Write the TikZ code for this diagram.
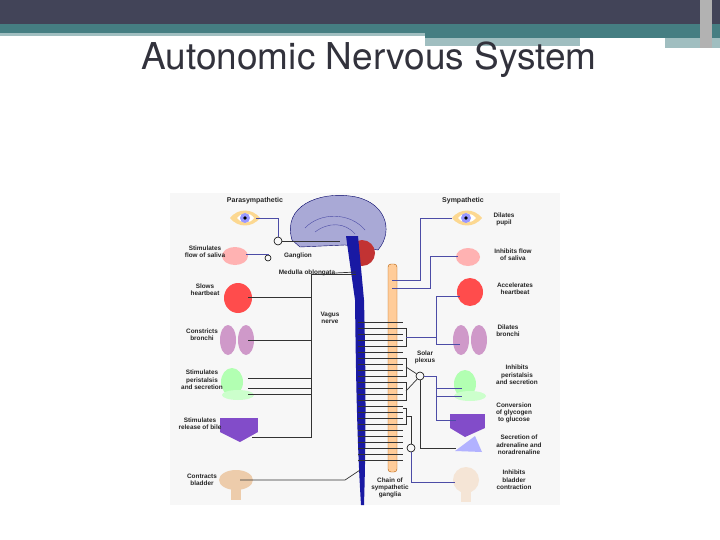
\documentclass[tikz,border=0pt]{standalone}
\usepackage{fontspec}
\setmainfont{Liberation Sans}
\newfontfamily\titlefont{TeX Gyre Heros}
\begin{document}
\begin{tikzpicture}[x=1pt,y=-1pt,
 lbl/.style={font=\bfseries\fontsize{6.4}{7.3}\selectfont,align=center,text=black!85,inner sep=0pt},
 nerve/.style={line width=0.7pt,black!80},
 snerve/.style={line width=0.7pt,blue!50!black!70},
 gang/.style={circle,draw=black,line width=0.6pt,minimum size=8pt,inner sep=0pt}]
\useasboundingbox (0,0) rectangle (720,540);
\fill[white] (0,0) rectangle (720,540);
% header
\fill[fill={rgb,255:red,66;green,68;blue,88}] (0,0) rectangle (720,24);
\fill[fill={rgb,255:red,69;green,126;blue,130}] (0,24) rectangle (720,33);
\fill[fill={rgb,255:red,160;green,190;blue,192}] (0,33) rectangle (425,36);
\fill[fill={rgb,255:red,69;green,126;blue,130}] (425,33) rectangle (720,38);
\fill[fill={rgb,255:red,160;green,190;blue,192}] (425,38) rectangle (580,46);
\fill[white] (580,40) rectangle (665,43);
\fill[fill={rgb,255:red,160;green,190;blue,192}] (665,38) rectangle (720,48);
\fill[gray!60] (700,0) rectangle (712,48);
\node[font=\titlefont\fontsize{37}{40}\selectfont,text={rgb,255:red,50;green,50;blue,60}] (title) at (369,60) {Autonomic Nervous System};
% panel
\fill[black!3] (170,193) rectangle (560,505);
\node[lbl,font=\bfseries\fontsize{7}{8}\selectfont] (para) at (255,201) {Parasympathetic};
\node[lbl,font=\bfseries\fontsize{7}{8}\selectfont] (symp) at (463,201) {Sympathetic};
% brain & cord
\fill[blue!35!gray!50!white,draw=blue!40!black,line width=0.4pt] (292,240) .. controls (282,205) and (320,192) .. (350,196) .. controls (385,200) and (395,230) .. (378,250) -- (345,245) -- (300,247) -- cycle;
\draw[blue!50!black!70] (305,228) .. controls (320,212) and (350,212) .. (365,230);
\draw[blue!50!black!70] (315,232) .. controls (328,222) and (345,222) .. (355,234);
\fill[red!70!black!80] (362,253) circle (13);
\fill[blue!60!black!90] (346,236) -- (358,236) -- (364,300) .. controls (366,380) and (366,440) .. (364,505) -- (361,505) .. controls (357,440) and (356,380) .. (355,300) -- cycle;
\fill[orange!40!white,draw=orange!70!black,line width=0.4pt,rounded corners=3pt] (388,264) rectangle (397,472);
% left organs
\fill[yellow!30!orange!40] (230,218) .. controls (238,208) and (252,208) .. (260,218) .. controls (252,228) and (238,228) .. (230,218);
\fill[white] (237,218) .. controls (242,212) and (250,212) .. (254,218) .. controls (250,224) and (242,224) .. (237,218);
\fill[blue!40] (245,218) circle (5); \fill[black] (245,218) circle (1.8);
\fill[red!30] (235,256) ellipse (13 and 9);
\fill[red!70] (238,298) ellipse (14 and 15);
\fill[blue!30!purple!40] (228,340) ellipse (8 and 15); \fill[blue!30!purple!40] (246,340) ellipse (8 and 15);
\fill[green!30] (232,382) ellipse (11 and 14); \fill[green!20] (238,395) ellipse (16 and 5);
\fill[blue!60!purple!70] (220,418) rectangle (258,432); \fill[blue!60!purple!70] (220,432) -- (258,432) -- (240,442) -- cycle;
\fill[orange!30!brown!40] (236,480) ellipse (17 and 10); \fill[orange!30!brown!40] (231,485) rectangle (241,500);
% right organs
\fill[yellow!30!orange!40] (452,218) .. controls (460,208) and (474,208) .. (482,218) .. controls (474,228) and (460,228) .. (452,218);
\fill[white] (458,218) .. controls (463,212) and (471,212) .. (476,218) .. controls (471,224) and (463,224) .. (458,218);
\fill[blue!40] (466,218) circle (5); \fill[black] (466,218) circle (1.8);
\fill[red!30] (468,257) ellipse (12 and 9);
\fill[red!70] (470,292) ellipse (13 and 14);
\fill[blue!30!purple!40] (461,340) ellipse (8 and 15); \fill[blue!30!purple!40] (479,340) ellipse (8 and 15);
\fill[green!30] (465,384) ellipse (11 and 14); \fill[green!20] (470,396) ellipse (16 and 5);
\fill[blue!60!purple!70] (450,414) rectangle (485,428); \fill[blue!60!purple!70] (450,428) -- (485,428) -- (465,437) -- cycle;
\fill[blue!30] (455,451) -- (475,436) -- (482,452) -- cycle;
\fill[orange!20!brown!20] (466,480) circle (13); \fill[orange!20!brown!20] (461,488) rectangle (471,502);
% left labels
\node[lbl] (l1) at (205,252) {Stimulates\\flow of saliva};
\node[lbl] (l2) at (205,290) {Slows\\heartbeat};
\node[lbl] (l3) at (202,335) {Constricts\\bronchi};
\node[lbl] (l4) at (202,380) {Stimulates\\peristalsis\\and secretion};
\node[lbl] (l5) at (200,424) {Stimulates\\release of bile};
\node[lbl] (l6) at (202,480) {Contracts\\bladder};
% right labels
\node[lbl] (r1) at (504,219) {Dilates\\pupil};
\node[lbl] (r2) at (513,255) {Inhibits flow\\of saliva};
\node[lbl] (r3) at (515,289) {Accelerates\\heartbeat};
\node[lbl] (r4) at (508,331) {Dilates\\bronchi};
\node[lbl] (r5) at (517,375) {Inhibits\\peristalsis\\and secretion};
\node[lbl] (r6) at (514,413) {Conversion\\of glycogen\\to glucose};
\node[lbl] (r7) at (519,445) {Secretion of\\adrenaline and\\noradrenaline};
\node[lbl] (r8) at (514,480) {Inhibits\\bladder\\contraction};
% middle labels
\node[lbl] (gl) at (298,256) {Ganglion};
\node[lbl] (med) at (307,273) {Medulla oblongata};
\node[lbl] (vag) at (330,318) {Vagus\\nerve};
\node[lbl] (sol) at (425,357) {Solar\\plexus};
\node[lbl] (chn) at (390,488) {Chain of\\sympathetic\\ganglia};
% parasympathetic nerves
\node[gang] (g1) at (278,241) {};
\node[gang,minimum size=6pt] (g2) at (268,258) {};
\draw[nerve,line width=1pt] (g1) -- (340,241);
\draw[snerve] (g1) |- (256,218);
\draw[snerve] (g2) |- (246,254);
\draw[nerve] (med.east) -- (356,272);
\draw[nerve] (356,274) -- (311,274) -- (311,437) -- (252,437);
\foreach \y in {297,340,378,388,394} \draw[nerve] (311,\y) -- (248,\y);
\draw[nerve] (360,470) -- (345,480) -- (240,480);
% spinal branches
\foreach \y in {322,328,334,340,346,352,358,364,370,376,382,388,394,400,406,412,418,424,430,436,442,448,454,460}
  \draw[nerve,line width=0.5pt] (358,\y) -- (403,\y);
\draw[nerve] (403,328) -- (406,328) -- (406,346) -- (403,346);
\draw[nerve] (403,358) -- (406,358) -- (406,376) -- (403,376);
\draw[nerve] (403,382) -- (406,382) -- (406,400) -- (403,400);
\draw[nerve] (403,408) -- (406,408) -- (406,424) -- (403,424);
% sympathetic postganglionic
\draw[snerve] (392,280) -- (420,280) -- (420,218) -- (452,218);
\draw[snerve] (392,288) -- (430,288) -- (430,256) -- (458,256);
\draw[snerve] (406,337) -- (436,337) -- (436,296) -- (460,296);
\draw[snerve] (436,337) -- (436,344) -- (460,344);
\node[gang] (sp) at (420,376) {};
\draw[nerve] (406,367) -- (sp); \draw[nerve] (406,391) -- (sp);
\draw[snerve] (sp) -- (436,376) -- (436,420) -- (456,420);
\draw[snerve] (436,388) -- (462,388); \draw[snerve] (436,396) -- (462,396);
\draw[nerve] (sp) -- (420,448) -- (456,448);
\node[gang] (g3) at (411,448) {};
\draw[nerve] (406,416) -- (411,416) -- (g3);
\draw[snerve] (g3) |- (455,482);
\end{tikzpicture}
\end{document}
